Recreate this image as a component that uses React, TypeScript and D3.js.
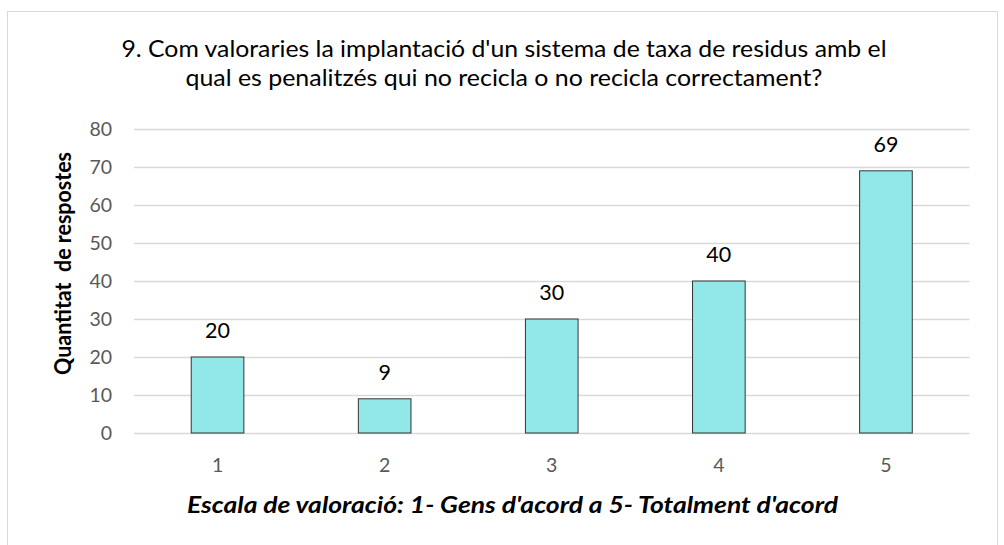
import React, { useEffect, useRef } from "react";
import * as d3 from "d3";

const categories = ["1", "2", "3", "4", "5"];
const values = [20, 9, 30, 40, 69];
const yTicks = [0, 10, 20, 30, 40, 50, 60, 70, 80];
const titleLines = [
  "9. Com valoraries la implantació d'un sistema de taxa de residus amb el",
  "qual es penalitzés qui no recicla o no recicla correctament?",
];
const yTitle = "Quantitat  de respostes";
const xTitle = "Escala de valoració: 1- Gens d'acord a 5- Totalment d'acord";

const font = "Lato, 'Open Sans', sans-serif";

const App = () => {
  const ref = useRef<SVGSVGElement>(null);

  useEffect(() => {
    const width = 1004;
    const height = 545;
    const m = { left: 134, right: 34.5, top: 129, bottom: 112 };

    const svg = d3.select(ref.current);
    svg.selectAll("*").remove();

    svg
      .append("rect")
      .attr("x", 7.5)
      .attr("y", 11.5)
      .attr("width", 990)
      .attr("height", 545)
      .attr("fill", "white")
      .attr("stroke", "#d9d9d9");

    const x = d3
      .scaleBand()
      .domain(categories)
      .range([m.left, width - m.right])
      .paddingInner(0.685)
      .paddingOuter(0.3425);

    const y = d3.scaleLinear().domain([0, 80]).range([height - m.bottom, m.top]);

    // gridlines
    svg
      .append("g")
      .selectAll("line")
      .data(yTicks)
      .enter()
      .append("line")
      .attr("x1", m.left)
      .attr("x2", width - m.right)
      .attr("y1", (d) => Math.round(y(d)) + 0.5)
      .attr("y2", (d) => Math.round(y(d)) + 0.5)
      .attr("stroke", "#d9d9d9")
      .attr("stroke-width", 1.5);

    // y tick labels
    svg
      .append("g")
      .selectAll("text")
      .data(yTicks)
      .enter()
      .append("text")
      .attr("x", 112)
      .attr("y", (d) => y(d))
      .attr("dy", "0.36em")
      .attr("text-anchor", "end")
      .attr("font-family", font)
      .attr("font-size", 19.5)
      .attr("fill", "#595959")
      .text((d) => d);

    // bars
    svg
      .append("g")
      .selectAll("rect")
      .data(values)
      .enter()
      .append("rect")
      .attr("x", (_, i) => x(categories[i]) as number)
      .attr("y", (d) => y(d))
      .attr("width", x.bandwidth())
      .attr("height", (d) => y(0) - y(d))
      .attr("fill", "#92E8E8")
      .attr("stroke", "#333")
      .attr("stroke-width", 1);

    // value labels
    svg
      .append("g")
      .selectAll("text")
      .data(values)
      .enter()
      .append("text")
      .attr("x", (_, i) => (x(categories[i]) as number) + x.bandwidth() / 2)
      .attr("y", (d) => y(d) - 19)
      .attr("text-anchor", "middle")
      .attr("font-family", font)
      .attr("font-size", 21.5)
      .attr("fill", "#000")
      .text((d) => d);

    // x tick labels
    svg
      .append("g")
      .selectAll("text")
      .data(categories)
      .enter()
      .append("text")
      .attr("x", (d) => (x(d) as number) + x.bandwidth() / 2)
      .attr("y", y(0) + 39)
      .attr("text-anchor", "middle")
      .attr("font-family", font)
      .attr("font-size", 19.5)
      .attr("fill", "#595959")
      .text((d) => d);

    // title
    const titleWidths = [765, 637];
    svg
      .append("g")
      .selectAll("text")
      .data(titleLines)
      .enter()
      .append("text")
      .attr("x", 504)
      .attr("y", (_, i) => 57 + i * 29)
      .attr("text-anchor", "middle")
      .attr("font-family", font)
      .attr("font-size", 23)
      .attr("textLength", (_, i) => titleWidths[i])
      .attr("lengthAdjust", "spacingAndGlyphs")
      .attr("fill", "#000")
      .text((d) => d);

    // axis titles
    svg
      .append("text")
      .attr("transform", `translate(71, 263.5) rotate(-90)`)
      .attr("text-anchor", "middle")
      .attr("font-family", font)
      .attr("font-size", 23)
      .attr("font-weight", "bold")
      .attr("textLength", 223)
      .attr("lengthAdjust", "spacingAndGlyphs")
      .attr("fill", "#000")
      .attr("xml:space", "preserve")
      .style("white-space", "pre")
      .text(yTitle);

    svg
      .append("text")
      .attr("x", 512.5)
      .attr("y", 513)
      .attr("text-anchor", "middle")
      .attr("font-family", font)
      .attr("font-size", 23.5)
      .attr("font-weight", "bold")
      .attr("font-style", "italic")
      .attr("textLength", 651)
      .attr("lengthAdjust", "spacingAndGlyphs")
      .attr("fill", "#000")
      .text(xTitle);
  }, []);

  return (
    <svg
      ref={ref}
      width={1004}
      height={545}
      style={{ position: "absolute", left: 0, top: 0, background: "white" }}
    />
  );
};

export default App;
